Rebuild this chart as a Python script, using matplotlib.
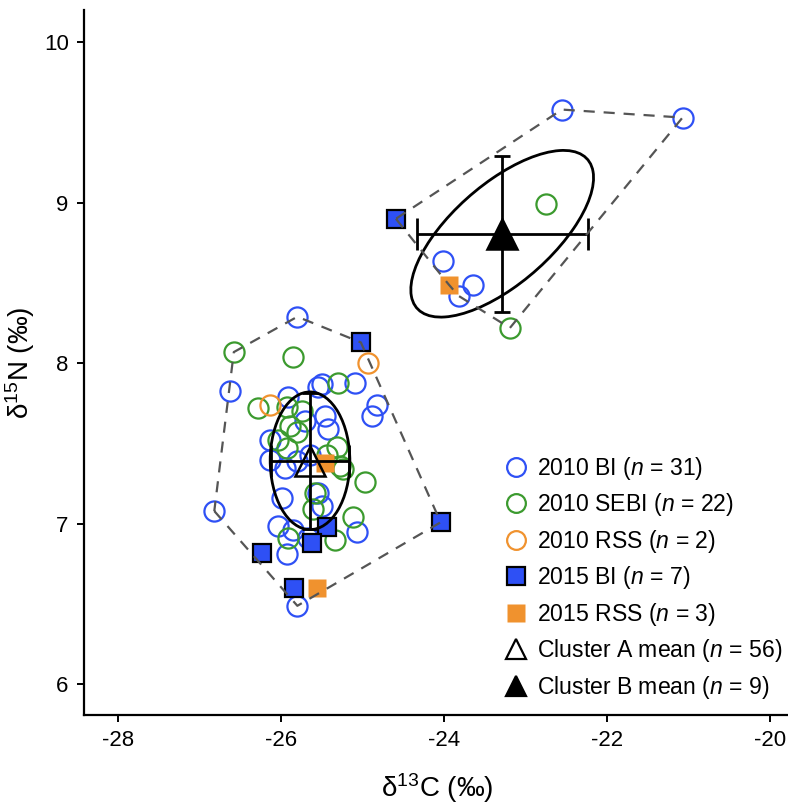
import numpy as np
import matplotlib
matplotlib.use("Agg")
import matplotlib.pyplot as plt
from matplotlib.patches import Ellipse
from matplotlib.lines import Line2D

plt.rcParams['font.family'] = ['Liberation Sans', 'DejaVu Sans']
plt.rcParams['mathtext.fontset'] = 'custom'
plt.rcParams['mathtext.rm'] = 'Liberation Sans'
plt.rcParams['mathtext.it'] = 'Liberation Sans:italic'
plt.rcParams['mathtext.default'] = 'regular'

# ---------------- data ----------------
# 2010 BI (open blue circles)
bi10_x = [-25.80, -26.63, -26.82, -25.80, -25.55, -25.50, -25.09, -25.91, -24.82, -24.88,
          -25.46, -25.42, -26.14, -25.71, -26.14, -25.80, -25.95, -25.99, -26.04, -25.85,
          -25.67, -25.93, -25.07, -25.55, -25.50, -25.64,
          -22.55, -21.07, -24.01, -23.64, -23.82]
bi10_y = [8.29, 7.83, 7.08, 6.49, 7.85, 7.87, 7.88, 7.79, 7.74, 7.67,
          7.67, 7.59, 7.52, 7.64, 7.40, 7.39, 7.35, 7.16, 6.99, 6.96,
          6.91, 6.81, 6.95, 7.19, 7.11, 7.43,
          9.58, 9.53, 8.64, 8.49, 8.42]
bi10_cl = ['A'] * 26 + ['B'] * 5

# 2010 SEBI (open green circles)
sebi10_x = [-26.58, -25.85, -25.30, -26.28, -25.93, -25.89, -25.80, -26.04, -25.93, -25.31,
            -25.28, -25.24, -24.97, -25.58, -25.61, -25.12, -25.91, -25.34, -25.74, -25.44,
            -22.75, -23.19]
sebi10_y = [8.07, 8.04, 7.88, 7.72, 7.73, 7.61, 7.57, 7.52, 7.47, 7.48,
            7.36, 7.34, 7.26, 7.19, 7.09, 7.04, 6.91, 6.90, 7.70, 7.43,
            8.99, 8.22]
sebi10_cl = ['A'] * 20 + ['B'] * 2

# 2010 RSS (open orange circles)
rss10_x = [-26.14, -24.93]
rss10_y = [7.74, 8.00]
rss10_cl = ['A', 'A']

# 2015 BI (filled blue squares)
bi15_x = [-25.02, -24.04, -25.44, -25.62, -26.23, -25.84, -24.59]
bi15_y = [8.13, 7.01, 6.98, 6.88, 6.82, 6.60, 8.90]
bi15_cl = ['A'] * 6 + ['B']

# 2015 RSS (filled orange squares)
rss15_x = [-25.46, -25.56, -23.94]
rss15_y = [7.38, 6.60, 8.49]
rss15_cl = ['A', 'A', 'B']

labels = [r'2010 BI ($\mathit{n}$ = 31)', r'2010 SEBI ($\mathit{n}$ = 22)',
          r'2010 RSS ($\mathit{n}$ = 2)', r'2015 BI ($\mathit{n}$ = 7)',
          r'2015 RSS ($\mathit{n}$ = 3)', r'Cluster A mean ($\mathit{n}$ = 56)',
          r'Cluster B mean ($\mathit{n}$ = 9)']
xticks = [-28, -26, -24, -22, -20]
yticks = [6, 7, 8, 9, 10]

BLUE = '#2E50F5'
GREEN = '#3B9A2E'
ORANGE = '#F0922E'

# ---------------- figure ----------------
fig = plt.figure(figsize=(7.88, 8.07), dpi=100)
ax = fig.add_axes([84 / 788, 1 - 715 / 807, 706 / 788, 705 / 807])

ms_c = 14.5
ax.plot(bi10_x, bi10_y, 'o', ms=ms_c, mfc='none', mec=BLUE, mew=1.6, zorder=2)
ax.plot(sebi10_x, sebi10_y, 'o', ms=ms_c, mfc='none', mec=GREEN, mew=1.6, zorder=2)
ax.plot(rss10_x, rss10_y, 'o', ms=ms_c, mfc='none', mec=ORANGE, mew=1.6, zorder=2)
ax.plot(bi15_x, bi15_y, 's', ms=12.5, mfc=BLUE, mec='black', mew=1.6, zorder=3)
ax.plot(rss15_x, rss15_y, 's', ms=13.5, mfc=ORANGE, mec='none', zorder=3)

# cluster pooling
allx = np.array(bi10_x + sebi10_x + rss10_x + bi15_x + rss15_x)
ally = np.array(bi10_y + sebi10_y + rss10_y + bi15_y + rss15_y)
allc = np.array(bi10_cl + sebi10_cl + rss10_cl + bi15_cl + rss15_cl)


def hull(pts):
    pts = sorted(set(map(tuple, pts)))
    def cross(o, a, b):
        return (a[0] - o[0]) * (b[1] - o[1]) - (a[1] - o[1]) * (b[0] - o[0])
    lower, upper = [], []
    for p in pts:
        while len(lower) >= 2 and cross(lower[-2], lower[-1], p) <= 0:
            lower.pop()
        lower.append(p)
    for p in reversed(pts):
        while len(upper) >= 2 and cross(upper[-2], upper[-1], p) <= 0:
            upper.pop()
        upper.append(p)
    return np.array(lower[:-1] + upper[:-1])


for cl, fill in [('A', 'none'), ('B', 'black')]:
    x = allx[allc == cl]
    y = ally[allc == cl]
    n = len(x)
    mx, my = x.mean(), y.mean()
    sx, sy = x.std(ddof=1), y.std(ddof=1)
    # convex hull
    h = hull(np.column_stack([x, y]))
    h = np.vstack([h, h[:1]])
    ax.plot(h[:, 0], h[:, 1], ls=(0, (5, 4)), color='#555555', lw=1.6, zorder=6)
    # small-sample corrected standard ellipse
    cov = np.cov(x, y)
    vals, vecs = np.linalg.eigh(cov)
    k = np.sqrt((n - 1) / (n - 2))
    ang = np.degrees(np.arctan2(vecs[1, 1], vecs[0, 1]))
    ell = Ellipse((mx, my), 2 * k * np.sqrt(vals[1]), 2 * k * np.sqrt(vals[0]), angle=ang,
                  fill=False, ec='black', lw=2.0, zorder=5)
    ax.add_patch(ell)
    # mean marker
    ax.plot([mx], [my], '^', ms=22, mfc=fill, mec='black', mew=1.8, zorder=4)
    # SD error bars
    ax.errorbar([mx], [my], xerr=[sx], fmt='none', ecolor='black', elinewidth=2.0,
                capsize=11.5, capthick=2.0, zorder=5)
    ax.errorbar([mx], [my], yerr=[sy], fmt='none', ecolor='black', elinewidth=2.0,
                capsize=5.5, capthick=2.0, zorder=5)

ax.set_xlim(-28.42, -19.75)
ax.set_ylim(5.81, 10.2)
ax.set_xticks(xticks)
ax.set_xticklabels([str(t) for t in xticks])
ax.set_yticks(yticks)
ax.set_yticklabels([str(t) for t in yticks])
for s in ['top', 'right']:
    ax.spines[s].set_visible(False)
for s in ['left', 'bottom']:
    ax.spines[s].set_linewidth(1.6)
ax.tick_params(axis='both', length=5, width=1.4, labelsize=16, pad=6, color='black')
ax.set_xlabel('δ$^{13}$C (‰)', fontsize=20, labelpad=14)
ax.set_ylabel('δ$^{15}$N (‰)', fontsize=20)
ax.yaxis.set_label_coords(-0.066, 0.5)

handles = [
    Line2D([], [], ls='none', marker='o', ms=13.5, mfc='none', mec=BLUE, mew=1.6),
    Line2D([], [], ls='none', marker='o', ms=13.5, mfc='none', mec=GREEN, mew=1.6),
    Line2D([], [], ls='none', marker='o', ms=13.5, mfc='none', mec=ORANGE, mew=1.6),
    Line2D([], [], ls='none', marker='s', ms=12.5, mfc=BLUE, mec='black', mew=1.6),
    Line2D([], [], ls='none', marker='s', ms=13.5, mfc=ORANGE, mec='none'),
    Line2D([], [], ls='none', marker='^', ms=15, mfc='none', mec='black', mew=1.6),
    Line2D([], [], ls='none', marker='^', ms=15, mfc='black', mec='black', mew=1.6),
]
ax.legend(handles, labels, loc='upper left', bbox_to_anchor=(0.592, 0.369), frameon=False,
          fontsize=16.6, labelspacing=0.41, handletextpad=0.28, handlelength=1.25,
          borderpad=0, borderaxespad=0)

fig.savefig('out.png', dpi=100)
